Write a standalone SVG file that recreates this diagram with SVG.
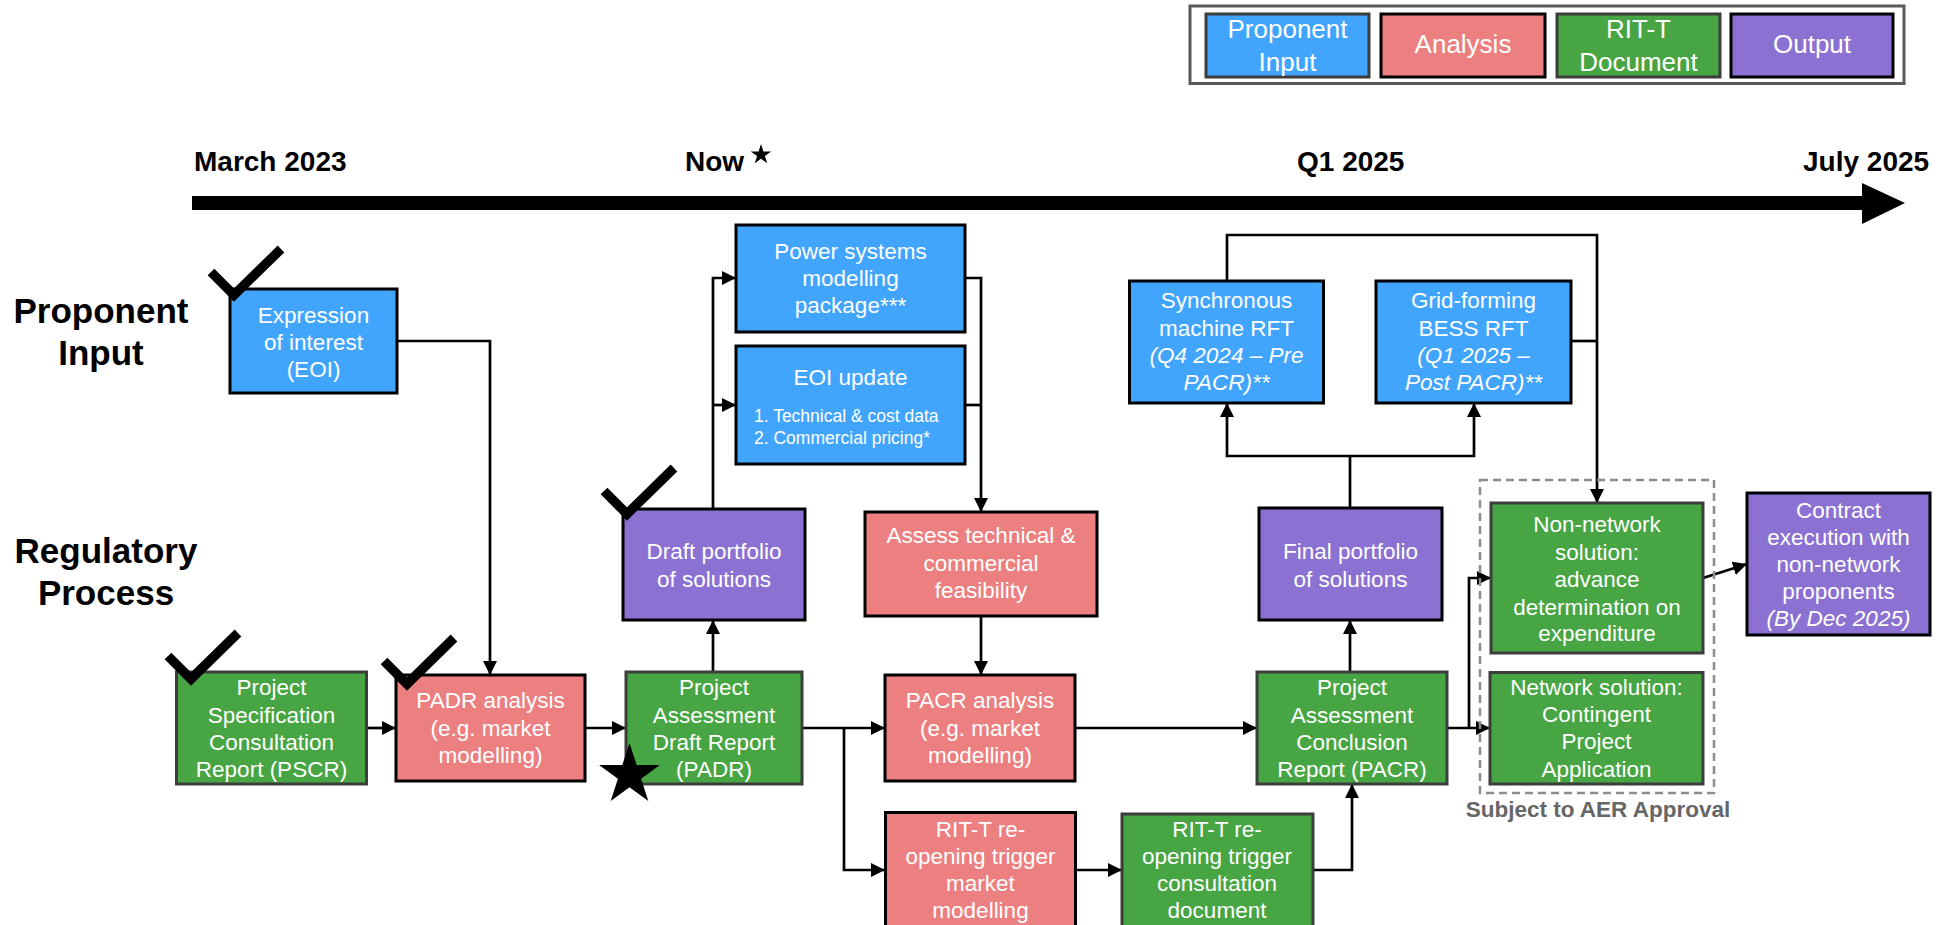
<svg xmlns="http://www.w3.org/2000/svg" width="1943" height="925" viewBox="0 0 1943 925">
<style>
text{font-family:"Liberation Sans",Arial,sans-serif}
.n{font-size:22.5px;fill:#fff;text-anchor:middle}
.it{font-style:italic}
.lg{font-size:26px;fill:#fff;text-anchor:middle}
.hd{font-size:28px;font-weight:bold;fill:#000}
.sd{font-size:35px;font-weight:bold;fill:#000;text-anchor:middle}
.blue{fill:#41A5FE;stroke:#000;stroke-width:3}
.pink{fill:#EC7F7F;stroke:#000;stroke-width:3}
.green{fill:#47A543;stroke:#3d3d3d;stroke-width:3}
.purple{fill:#8B71D2;stroke:#000;stroke-width:3}
.c{fill:none;stroke:#000;stroke-width:2.7}
.a{marker-end:url(#ah)}
.chk{fill:none;stroke:#000;stroke-width:9.5;stroke-linejoin:miter;stroke-miterlimit:10}
</style>
<defs>
<marker id="ah" markerUnits="userSpaceOnUse" markerWidth="14" markerHeight="14" viewBox="0 0 10 10" refX="10" refY="5" orient="auto">
<path d="M0,0 L10,5 L0,10 z" fill="#000"/>
</marker>
</defs>
<rect width="1943" height="925" fill="#fff"/>

<!-- Legend -->
<g id="legend">
<rect x="1190" y="6" width="714" height="77.5" fill="#fff" stroke="#595959" stroke-width="3"/>
<rect x="1206" y="14" width="163" height="63" fill="#41A5FE" stroke="#3d3d3d" stroke-width="3"/>
<text class="lg" x="1287.5" y="38">Proponent</text>
<text class="lg" x="1287.5" y="71">Input</text>
<rect x="1381" y="14" width="164" height="63" class="pink"/>
<text class="lg" x="1463" y="53">Analysis</text>
<rect x="1557" y="14" width="163" height="63" class="green"/>
<text class="lg" x="1638.5" y="38">RIT-T</text>
<text class="lg" x="1638.5" y="71">Document</text>
<rect x="1731" y="14" width="162" height="63" class="purple"/>
<text class="lg" x="1812" y="53">Output</text>
</g>

<!-- Timeline -->
<g id="timeline">
<rect x="192" y="196" width="1672" height="14" fill="#000"/>
<polygon points="1862,183 1905,203 1862,224" fill="#000"/>
<text class="hd" x="194" y="171">March 2023</text>
<text class="hd" x="685" y="171">Now</text>
<polygon points="761,144 763.4,151.4 771.2,151.4 764.9,156 767.3,163.3 761,158.8 754.7,163.3 757.1,156 750.8,151.4 758.6,151.4" fill="#000"/>
<text class="hd" x="1297" y="171">Q1 2025</text>
<text class="hd" x="1803" y="171">July 2025</text>
</g>

<!-- Side labels -->
<g id="side-labels">
<text class="sd" x="101" y="323">Proponent</text>
<text class="sd" x="101" y="365">Input</text>
<text class="sd" x="106" y="563">Regulatory</text>
<text class="sd" x="106" y="605">Process</text>
</g>

<!-- Connectors -->
<g id="connectors">
<path class="c a" d="M397,341 H490 V675"/>
<path class="c a" d="M366,728 H396"/>
<path class="c a" d="M585,728 H626"/>
<path class="c a" d="M713,672 V620"/>
<path class="c a" d="M713,509 V278 H736"/>
<path class="c a" d="M713,405 H736"/>
<path class="c a" d="M965,278 H981 V512"/>
<path class="c" d="M965,405 H981"/>
<path class="c a" d="M981,616 V675"/>
<path class="c a" d="M802,728 H885"/>
<path class="c a" d="M844,728 V870 H885"/>
<path class="c a" d="M1075,728 H1257"/>
<path class="c a" d="M1075,870 H1122"/>
<path class="c a" d="M1313,870 H1352 V784"/>
<path class="c a" d="M1350,672 V620"/>
<path class="c" d="M1350,508 V456"/>
<path class="c a" d="M1350,456 H1227 V403"/>
<path class="c a" d="M1350,456 H1474 V403"/>
<path class="c a" d="M1227,281 V235 H1597 V503"/>
<path class="c" d="M1571,341 H1597"/>
<path class="c a" d="M1447,728 H1490"/>
<path class="c a" d="M1469,728 V578 H1491"/>
<path class="c a" d="M1703,578 L1747,564"/>
<rect x="1480" y="480" width="234" height="313" fill="none" stroke="#8c8c8c" stroke-width="2.5" stroke-dasharray="8 5"/>
<text x="1598" y="817" font-size="22.5" font-weight="bold" fill="#666" text-anchor="middle">Subject to AER Approval</text>
</g>

<!-- Nodes -->
<g id="eoi">
<rect x="230" y="289" width="167" height="104" class="blue"/>
<text class="n" x="313.5" y="323">Expression</text>
<text class="n" x="313.5" y="350">of interest</text>
<text class="n" x="313.5" y="377">(EOI)</text>
</g>
<g id="power-systems">
<rect x="736" y="225" width="229" height="107" class="blue"/>
<text class="n" x="850.5" y="259">Power systems</text>
<text class="n" x="850.5" y="286">modelling</text>
<text class="n" x="850.5" y="313">package***</text>
</g>
<g id="eoi-update">
<rect x="736" y="346" width="229" height="118" class="blue"/>
<text class="n" x="850.5" y="385">EOI update</text>
<text x="754" y="422" font-size="17.5" fill="#fff">1. Technical &amp; cost data</text>
<text x="754" y="443.5" font-size="17.5" fill="#fff">2. Commercial pricing*</text>
</g>
<g id="sync-rft">
<rect x="1129.5" y="281" width="194" height="122" class="blue"/>
<text class="n" x="1226.5" y="308">Synchronous</text>
<text class="n" x="1226.5" y="336">machine RFT</text>
<text class="n it" x="1226.5" y="363">(Q4 2024 – Pre</text>
<text class="n it" x="1226.5" y="390">PACR)**</text>
</g>
<g id="bess-rft">
<rect x="1376" y="281" width="195" height="122" class="blue"/>
<text class="n" x="1473.5" y="308">Grid-forming</text>
<text class="n" x="1473.5" y="336">BESS RFT</text>
<text class="n it" x="1473.5" y="363">(Q1 2025 –</text>
<text class="n it" x="1473.5" y="390">Post PACR)**</text>
</g>
<g id="pscr">
<rect x="176.5" y="672" width="190" height="112" class="green"/>
<text class="n" x="271.5" y="695">Project</text>
<text class="n" x="271.5" y="723">Specification</text>
<text class="n" x="271.5" y="750">Consultation</text>
<text class="n" x="271.5" y="777">Report (PSCR)</text>
</g>
<g id="padr-analysis">
<rect x="396" y="675" width="189" height="106" class="pink"/>
<text class="n" x="490.5" y="708">PADR analysis</text>
<text class="n" x="490.5" y="736">(e.g. market</text>
<text class="n" x="490.5" y="763">modelling)</text>
</g>
<g id="padr">
<rect x="626" y="672" width="176" height="112" class="green"/>
<text class="n" x="714" y="695">Project</text>
<text class="n" x="714" y="723">Assessment</text>
<text class="n" x="714" y="750">Draft Report</text>
<text class="n" x="714" y="777">(PADR)</text>
</g>
<g id="draft-portfolio">
<rect x="623" y="509" width="182" height="111" class="purple"/>
<text class="n" x="714" y="559">Draft portfolio</text>
<text class="n" x="714" y="587">of solutions</text>
</g>
<g id="assess">
<rect x="865" y="512" width="232" height="104" class="pink"/>
<text class="n" x="981" y="543">Assess technical &amp;</text>
<text class="n" x="981" y="571">commercial</text>
<text class="n" x="981" y="598">feasibility</text>
</g>
<g id="pacr-analysis">
<rect x="885" y="675" width="190" height="106" class="pink"/>
<text class="n" x="980" y="708">PACR analysis</text>
<text class="n" x="980" y="736">(e.g. market</text>
<text class="n" x="980" y="763">modelling)</text>
</g>
<g id="reopen-modelling">
<rect x="885.5" y="812.5" width="190" height="125" class="pink"/>
<text class="n" x="980.5" y="837">RIT-T re-</text>
<text class="n" x="980.5" y="864">opening trigger</text>
<text class="n" x="980.5" y="891">market</text>
<text class="n" x="980.5" y="918">modelling</text>
</g>
<g id="reopen-consultation">
<rect x="1122" y="814" width="191" height="125" class="green"/>
<text class="n" x="1217" y="837">RIT-T re-</text>
<text class="n" x="1217" y="864">opening trigger</text>
<text class="n" x="1217" y="891">consultation</text>
<text class="n" x="1217" y="918">document</text>
</g>
<g id="pacr">
<rect x="1257" y="672" width="190" height="112" class="green"/>
<text class="n" x="1352" y="695">Project</text>
<text class="n" x="1352" y="723">Assessment</text>
<text class="n" x="1352" y="750">Conclusion</text>
<text class="n" x="1352" y="777">Report (PACR)</text>
</g>
<g id="final-portfolio">
<rect x="1259" y="508" width="183" height="112" class="purple"/>
<text class="n" x="1350.5" y="559">Final portfolio</text>
<text class="n" x="1350.5" y="587">of solutions</text>
</g>
<g id="non-network">
<rect x="1491" y="503" width="212" height="150" class="green"/>
<text class="n" x="1597" y="532">Non-network</text>
<text class="n" x="1597" y="560">solution:</text>
<text class="n" x="1597" y="587">advance</text>
<text class="n" x="1597" y="615">determination on</text>
<text class="n" x="1597" y="641">expenditure</text>
</g>
<g id="network">
<rect x="1490" y="672.5" width="213" height="111.5" class="green"/>
<text class="n" x="1596.5" y="695">Network solution:</text>
<text class="n" x="1596.5" y="722">Contingent</text>
<text class="n" x="1596.5" y="749">Project</text>
<text class="n" x="1596.5" y="777">Application</text>
</g>
<g id="contract">
<rect x="1747" y="493" width="183" height="142" class="purple"/>
<text class="n" x="1838.5" y="518">Contract</text>
<text class="n" x="1838.5" y="545">execution with</text>
<text class="n" x="1838.5" y="572">non-network</text>
<text class="n" x="1838.5" y="599">proponents</text>
<text class="n it" x="1838.5" y="626">(By Dec 2025)</text>
</g>

<!-- Status marks -->
<g id="marks">
<polyline class="chk" points="211,272 234,295 281,249"/>
<polyline class="chk" points="168,656 191,679 238,633"/>
<polyline class="chk" points="384,661 407,684 454,638"/>
<polyline class="chk" points="604,491 627,514 674,468"/>
<polygon points="629.5,743 636.7,765.1 659.9,765.1 641.1,778.8 648.3,800.9 629.5,787.2 610.7,800.9 617.9,778.8 599.1,765.1 622.3,765.1" fill="#000"/>
</g>
</svg>
